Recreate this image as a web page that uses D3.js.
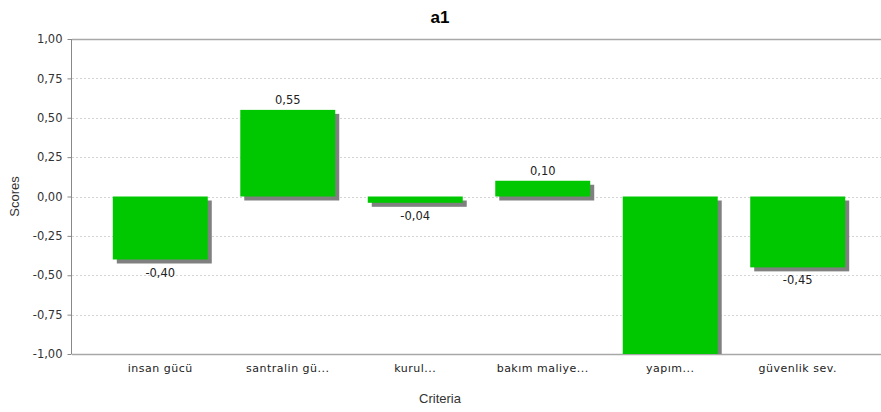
<!DOCTYPE html>
<style>
body { margin: 0; background: #fff; }
.axis .domain { display: none; }
</style>
<svg width="881" height="412"></svg>
<script src="https://d3js.org/d3.v7.min.js"></script>
<script>

var criteria = ["insan gücü", "santralin gü...", "kurul...", "bakım maliye...", "yapım...", "güvenlik sev."];
var scores = [-0.40, 0.55, -0.04, 0.10, -1.00, -0.45];
var yTicks = [-1, -0.75, -0.5, -0.25, 0, 0.25, 0.5, 0.75, 1];

var svg = d3.select("svg"),
    plotLeft = 72, plotRight = 886, plotTop = 39, plotBottom = 354;

var fmt = function(v) { return d3.format(".2f")(v).replace(".", ",").replace("−", "-"); };

var x = d3.scaleBand()
    .domain(criteria)
    .range([plotLeft, plotRight])
    .paddingInner(0.255)
    .paddingOuter(0.32);

var y = d3.scaleLinear()
    .domain([-1, 1])
    .range([plotBottom, plotTop]);

svg.append("defs").append("clipPath").attr("id", "plot")
  .append("rect").attr("x", plotLeft).attr("y", plotTop).attr("width", 881 - plotLeft).attr("height", plotBottom - plotTop);

// gridlines
svg.append("g")
  .selectAll("line")
  .data(yTicks.slice(1, -1))
  .enter().append("line")
    .attr("x1", plotLeft).attr("x2", 881)
    .attr("y1", function(d) { return Math.round(y(d)) + 0.5; })
    .attr("y2", function(d) { return Math.round(y(d)) + 0.5; })
    .attr("stroke", "#d4d4d4")
    .attr("stroke-dasharray", "2,2");

// top and bottom lines
[1, -1].forEach(function(v) {
  svg.append("line")
    .attr("x1", plotLeft).attr("x2", 881)
    .attr("y1", Math.round(y(v)) + 0.5).attr("y2", Math.round(y(v)) + 0.5)
    .attr("stroke", "#a8a8a8").attr("stroke-width", 1.5);
});

var bars = svg.append("g").attr("clip-path", "url(#plot)");

// shadows
bars.selectAll(".shadow")
  .data(scores)
  .enter().append("rect")
    .attr("class", "shadow")
    .attr("x", function(d, i) { return x(criteria[i]) + 4; })
    .attr("y", function(d) { return Math.min(y(d), y(0)) + 4; })
    .attr("width", x.bandwidth())
    .attr("height", function(d) { return Math.abs(y(d) - y(0)); })
    .attr("fill", "#808080");

bars.selectAll(".bar")
  .data(scores)
  .enter().append("rect")
    .attr("class", "bar")
    .attr("x", function(d, i) { return x(criteria[i]); })
    .attr("y", function(d) { return Math.min(y(d), y(0)); })
    .attr("width", x.bandwidth())
    .attr("height", function(d) { return Math.abs(y(d) - y(0)); })
    .attr("fill", "#00c800");

// value labels
svg.append("g")
    .attr("font-family", "DejaVu Sans, sans-serif")
    .attr("font-size", 11.5)
    .attr("fill", "#222")
    .attr("text-anchor", "middle")
  .selectAll("text")
  .data(scores.filter(function(d) { return d > -1; }))
  .enter().append("text")
    .attr("x", function(d) { return x(criteria[scores.indexOf(d)]) + x.bandwidth() / 2; })
    .attr("y", function(d) { return d >= 0 ? y(d) - 6 : y(d) + 17; })
    .text(fmt);

// y axis
var yAxis = svg.append("g")
    .attr("class", "axis")
    .attr("transform", "translate(" + (plotLeft - 0.5) + ",0)")
    .call(d3.axisLeft(y).tickValues(yTicks).tickSize(4).tickPadding(5).tickFormat(fmt));
yAxis.selectAll("text").attr("font-family", "DejaVu Sans, sans-serif").attr("font-size", 11.5).attr("fill", "#333");
yAxis.selectAll(".tick line").attr("stroke", "#888");
yAxis.append("line").attr("y1", plotTop).attr("y2", plotBottom).attr("stroke", "#888");

// x axis
var xAxis = svg.append("g")
    .attr("class", "axis")
    .attr("transform", "translate(0," + plotBottom + ")")
    .call(d3.axisBottom(x).tickSize(0).tickPadding(10));
xAxis.selectAll("text")
    .attr("font-family", "DejaVu Sans, sans-serif")
    .attr("font-size", 11)
    .attr("letter-spacing", 0.5)
    .attr("fill", "#222");

// titles
svg.append("text")
    .attr("x", 440).attr("y", 23)
    .attr("text-anchor", "middle")
    .attr("font-family", "Liberation Sans, Arial, sans-serif")
    .attr("font-size", 17).attr("font-weight", "bold")
    .text("a1");

svg.append("text")
    .attr("x", 440).attr("y", 403)
    .attr("text-anchor", "middle")
    .attr("font-family", "Liberation Sans, Arial, sans-serif")
    .attr("font-size", 13).attr("fill", "#333")
    .text("Criteria");

svg.append("text")
    .attr("transform", "translate(19," + y(0) + ") rotate(-90)")
    .attr("text-anchor", "middle")
    .attr("font-family", "Liberation Sans, Arial, sans-serif")
    .attr("font-size", 13).attr("fill", "#333")
    .text("Scores");

</script>
